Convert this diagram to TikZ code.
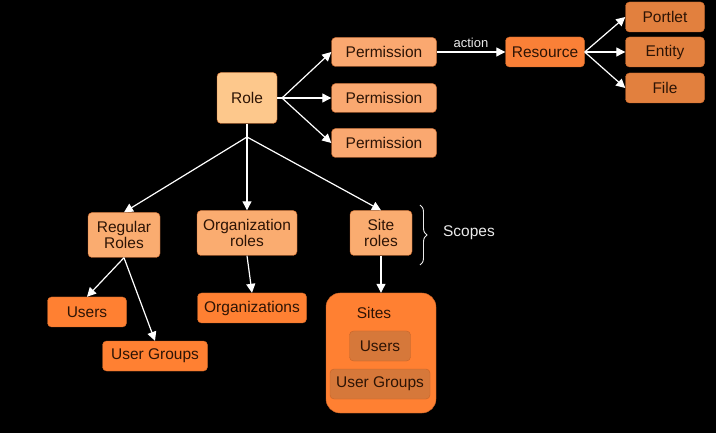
\documentclass[tikz,border=0pt]{standalone}
\usepackage{fontspec}
\setmainfont{Liberation Sans}
\usepackage{tikz}
\usetikzlibrary{arrows.meta,decorations.pathreplacing}

\definecolor{rolefill}{RGB}{253,200,140}
\definecolor{permfill}{RGB}{250,168,112}
\definecolor{resfill}{RGB}{250,128,55}
\definecolor{kindfill}{RGB}{226,128,62}
\definecolor{scopefill}{RGB}{250,172,112}
\definecolor{memberfill}{RGB}{255,128,50}
\definecolor{innerfill}{RGB}{214,120,58}
\definecolor{boxline}{RGB}{200,100,40}
\definecolor{boxtext}{RGB}{45,20,5}
\definecolor{labeltext}{RGB}{235,235,235}

\tikzset{
  box/.style={draw=boxline, rounded corners=4pt, text=boxtext, align=center,
    font=\fontsize{15.5}{16.5}\selectfont, inner sep=0pt},
  link/.style={draw=white, line width=1.2pt, -{Triangle[length=9pt,width=9pt]}},
  plain/.style={draw=white, line width=1.2pt}
}

\begin{document}
\begin{tikzpicture}[x=1pt,y=-1pt]
        \fill[black] (0,0) rectangle (716,433);
        \useasboundingbox (0,0) rectangle (716,433);

        % role and permissions
        \node[box, fill=rolefill, minimum width=60pt, minimum height=51pt] (role) at (247,98) {Role};
        \node[box, fill=permfill, minimum width=105pt, minimum height=29pt] (perm1) at (384,52) {Permission};
        \node[box, fill=permfill, minimum width=105pt, minimum height=29pt] (perm2) at (384,98) {Permission};
        \node[box, fill=permfill, minimum width=105pt, minimum height=29pt] (perm3) at (384,143) {Permission};

        \node[box, fill=resfill, minimum width=79pt, minimum height=30pt] (res) at (545,52) {Resource};
        \node[box, fill=kindfill, minimum width=79pt, minimum height=30pt] (portlet) at (665,17) {Portlet};
        \node[box, fill=kindfill, minimum width=79pt, minimum height=30pt] (entity) at (665,52) {Entity};
        \node[box, fill=kindfill, minimum width=79pt, minimum height=30pt] (file) at (665,88) {File};

        \coordinate (rolefan) at (282,98);
        \draw[plain] (role.east) -- (rolefan);
        \draw[link] (rolefan) -- (perm1.west);
        \draw[link] (rolefan) -- (perm2.west);
        \draw[link] (rolefan) -- (perm3.west);

        \draw[link] (perm1.east) -- node[above, text=labeltext, font=\fontsize{13}{14}\selectfont] (act) {action} (res.west);

        \draw[link] (res.east) -- (portlet.west);
        \draw[link] (res.east) -- (entity.west);
        \draw[link] (res.east) -- (file.west);

        % scopes
        \node[box, fill=scopefill, minimum width=72pt, minimum height=45pt] (regular) at (124,235) {Regular\\Roles};
        \node[box, fill=scopefill, minimum width=100pt, minimum height=45pt] (orgrole) at (247,233) {Organization\\roles};
        \node[box, fill=scopefill, minimum width=62pt, minimum height=45pt] (siterole) at (381,233) {Site\\roles};

        \coordinate (rolejoin) at (247,137);
        \draw[plain] (role.south) -- (rolejoin);
        \draw[link] (rolejoin) -- (regular.north);
        \draw[link] (rolejoin) -- (orgrole.north);
        \draw[link] (rolejoin) -- (siterole.north);

        \draw[draw=labeltext, line width=0.9pt, decorate, decoration={brace, amplitude=7pt}] (420,205) -- (420,265);
        \node[text=labeltext, font=\fontsize{15.5}{16.5}\selectfont] (scopes) at (469,233) {Scopes};

        % members
        \node[box, fill=memberfill, minimum width=79pt, minimum height=30pt] (users) at (87,312) {Users};
        \node[box, fill=memberfill, minimum width=105pt, minimum height=30pt] (groups) at (155,356) {User Groups};
        \node[box, fill=memberfill, minimum width=109pt, minimum height=30pt] (orgs) at (252,308) {Organizations};

        \node[box, fill=memberfill, rounded corners=14pt, minimum width=110pt, minimum height=120pt] (sites) at (381,353) {};
        \node[text=boxtext, font=\fontsize{15.5}{16.5}\selectfont] (sitestext) at (374,313) {Sites};
        \node[box, fill=innerfill, minimum width=61pt, minimum height=30pt] (siteusers) at (380,346) {Users};
        \node[box, fill=innerfill, minimum width=100pt, minimum height=30pt] (sitegroups) at (380,384) {User Groups};

        \draw[link] (regular.south) -- (users.north);
        \draw[link] (regular.south) -- (groups.north);
        \draw[link] (orgrole.south) -- (orgs.north);
        \draw[link] (siterole.south) -- (sites.north);

        \end{tikzpicture}
\end{document}
